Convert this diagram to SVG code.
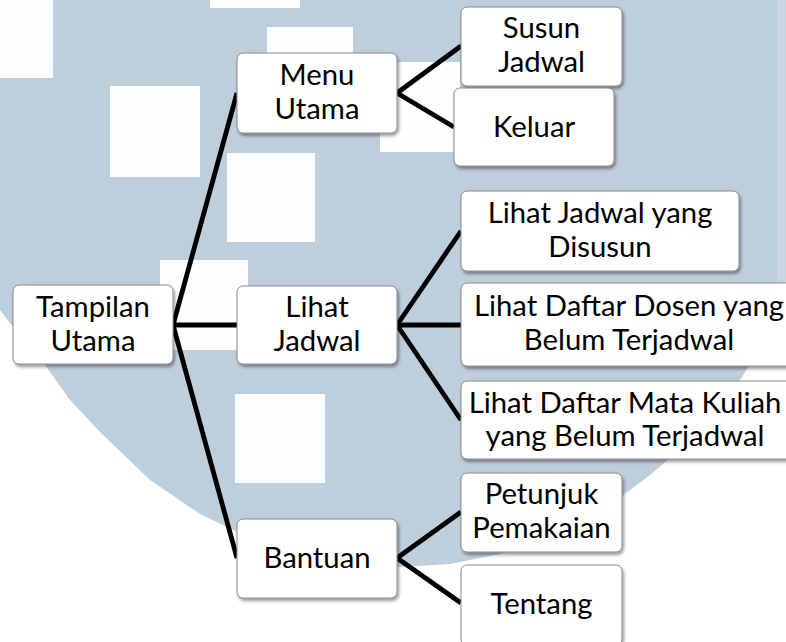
<svg xmlns="http://www.w3.org/2000/svg" width="786" height="642" viewBox="0 0 786 642">
<defs>
<filter id="sh" x="-10%" y="-10%" width="130%" height="130%">
<feDropShadow dx="1.5" dy="2.5" stdDeviation="1.5" flood-color="#000" flood-opacity="0.4"/>
</filter>
</defs>
<style>
.box{fill:#fff;stroke:#8a8a8a;stroke-width:1;filter:url(#sh)}
.t{font-family:Lato,"Open Sans","Liberation Sans",sans-serif;font-size:29.3px;fill:#000;text-anchor:middle}
.c line{stroke:#000;stroke-width:4.8;stroke-linecap:butt}
.sq{fill:#fdfeff}
</style>
<rect width="786" height="642" fill="#fff"/>
<g id="watermark">
<path fill="#bfcedb" d="M0,0 H786 V290 L765,340 L740,380 L700,432 L650,475 L600,513 L550,538 L500,554 L450,564 L400,567 L350,564 L300,554 L250,538 L200,514 L150,480 L100,432 L70,400 L45,365 L20,336 L0,310 Z"/>
<rect x="777" y="0" width="9" height="290" fill="#c9d6e1"/>
<rect class="sq" x="0" y="0" width="53" height="78"/>
<rect class="sq" x="110" y="86" width="90" height="91"/>
<rect class="sq" x="210" y="0" width="90" height="8"/>
<rect class="sq" x="267" y="27" width="86" height="88"/>
<rect class="sq" x="380" y="62" width="80" height="90"/>
<rect class="sq" x="227" y="153" width="88" height="89"/>
<rect class="sq" x="160" y="260" width="88" height="90"/>
<rect class="sq" x="235" y="394" width="90" height="89"/>
</g>
<g id="connectors" class="c">
<line x1="173" y1="325" x2="237" y2="93"/>
<line x1="173" y1="325" x2="237" y2="325"/>
<line x1="173" y1="325" x2="237" y2="558"/>
<line x1="397" y1="93" x2="461" y2="46"/>
<line x1="397" y1="93" x2="454" y2="127"/>
<line x1="397" y1="325" x2="461" y2="231"/>
<line x1="397" y1="325" x2="461" y2="325"/>
<line x1="397" y1="325" x2="461" y2="420"/>
<line x1="397" y1="558" x2="461" y2="512"/>
<line x1="397" y1="558" x2="461" y2="603"/>
</g>
<g id="tampilan-utama">
<rect class="box" x="13" y="285" width="160" height="79" rx="6"/>
<text class="t" x="93" y="317">Tampilan</text>
<text class="t" x="93" y="351">Utama</text>
</g>
<g id="menu-utama">
<rect class="box" x="237" y="53" width="160" height="80" rx="6"/>
<text class="t" x="317" y="85">Menu</text>
<text class="t" x="317" y="119">Utama</text>
</g>
<g id="lihat-jadwal">
<rect class="box" x="237" y="286" width="160" height="78" rx="6"/>
<text class="t" x="317" y="317">Lihat</text>
<text class="t" x="317" y="351">Jadwal</text>
</g>
<g id="bantuan">
<rect class="box" x="237" y="519" width="160" height="79" rx="6"/>
<text class="t" x="317" y="568">Bantuan</text>
</g>
<g id="susun-jadwal">
<rect class="box" x="461" y="7" width="161" height="79" rx="6"/>
<text class="t" x="541.5" y="38">Susun</text>
<text class="t" x="541.5" y="72">Jadwal</text>
</g>
<g id="keluar">
<rect class="box" x="454" y="88" width="160" height="78" rx="6"/>
<text class="t" x="534" y="137">Keluar</text>
</g>
<g id="lihat-jadwal-disusun">
<rect class="box" x="461" y="191" width="278" height="80" rx="6"/>
<text class="t" x="600" y="223">Lihat Jadwal yang</text>
<text class="t" x="600" y="257">Disusun</text>
</g>
<g id="lihat-daftar-dosen">
<rect class="box" x="461" y="283" width="338" height="83" rx="6"/>
<text class="t" x="629" y="316">Lihat Daftar Dosen yang</text>
<text class="t" x="629" y="350">Belum Terjadwal</text>
</g>
<g id="lihat-daftar-matkul">
<rect class="box" x="461" y="381" width="334" height="78" rx="6"/>
<text class="t" x="625" y="413">Lihat Daftar Mata Kuliah</text>
<text class="t" x="625" y="446">yang Belum Terjadwal</text>
</g>
<g id="petunjuk-pemakaian">
<rect class="box" x="461" y="473" width="161" height="79" rx="6"/>
<text class="t" x="541.5" y="504">Petunjuk</text>
<text class="t" x="541.5" y="538">Pemakaian</text>
</g>
<g id="tentang">
<rect class="box" x="461" y="565" width="161" height="80" rx="6"/>
<text class="t" x="541.5" y="614">Tentang</text>
</g>
</svg>
